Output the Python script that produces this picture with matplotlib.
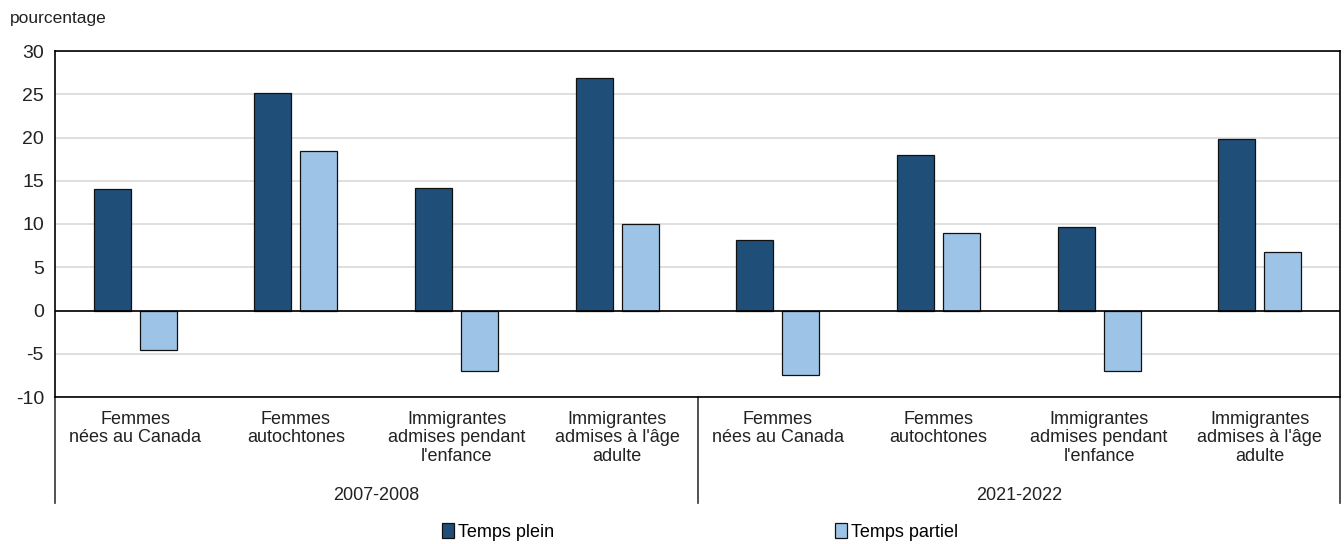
import numpy as np
import matplotlib.pyplot as plt
from matplotlib.lines import Line2D
from matplotlib.patches import Patch

plt.rcParams['font.family'] = ['Liberation Sans', 'DejaVu Sans']

# data
categories = ["Femmes\nnées au Canada", "Femmes\nautochtones",
              "Immigrantes\nadmises pendant\nl'enfance",
              "Immigrantes\nadmises à l'âge\nadulte"]
periods = ["2007-2008", "2021-2022"]
temps_plein = [14.0, 25.1, 14.2, 26.9, 8.1, 18.0, 9.7, 19.8]
temps_partiel = [-4.6, 18.4, -7.0, 10.0, -7.4, 9.0, -7.0, 6.8]
series_names = ["Temps plein", "Temps partiel"]
yticks = [-10, -5, 0, 5, 10, 15, 20, 25, 30]

dark = '#1F4E79'
light = '#9DC3E6'
txt = '#222222'

fig = plt.figure(figsize=(13.44, 5.44), dpi=100)
ax = fig.add_axes([55/1344, 1-397/544, (1340-55)/1344, (397-51)/544])

n = len(categories) * len(periods)
x = np.arange(n)
w = 0.23
off = 0.143
ax.bar(x - off, temps_plein, w, color=dark, edgecolor='#111111', linewidth=0.9, zorder=3)
ax.bar(x + off, temps_partiel, w, color=light, edgecolor='#111111', linewidth=0.9, zorder=3)

ax.set_xlim(-0.5, n - 0.5)
ax.set_ylim(-10, 30)
ax.set_yticks(yticks)
ax.set_yticklabels([str(t) for t in yticks], fontsize=14, color=txt)
ax.tick_params(axis='y', length=0, pad=8)
ax.yaxis.grid(True, color='#D9D9D9', linewidth=1.2, zorder=0)
ax.axhline(0, color='black', linewidth=1.2, zorder=4)
for s in ax.spines.values():
    s.set_color('black')
    s.set_linewidth(1.2)

ax.set_xticks(x)
ax.set_xticklabels(categories * len(periods), fontsize=13, color=txt,
                   linespacing=1.12, va='top')
ax.tick_params(axis='x', length=0, pad=10)

# group separators and period labels
for i in range(len(periods) + 1):
    xp = i * len(categories) - 0.5
    ax.add_line(Line2D([xp, xp], [0, -0.306], transform=ax.get_xaxis_transform(),
                       color='#333333', linewidth=1.2, clip_on=False))
for i, p in enumerate(periods):
    xc = i * len(categories) + (len(categories) - 1) / 2
    ax.text(xc, -0.286, p, transform=ax.get_xaxis_transform(), ha='center',
            va='center', fontsize=13, color=txt)

fig.text(10/1344, 1-18/544, "pourcentage", fontsize=12.5, color=txt, va='center')

handles = [Patch(facecolor=dark, edgecolor='#111111', linewidth=0.9),
           Patch(facecolor=light, edgecolor='#111111', linewidth=0.9)]
fig.legend(handles, series_names, loc='center', bbox_to_anchor=(700/1344, 1-532/544),
           ncol=2, frameon=False, fontsize=13, handlelength=0.65, handleheight=0.9,
           handletextpad=0.2, columnspacing=15.6)

fig.savefig('out.png', dpi=100)
